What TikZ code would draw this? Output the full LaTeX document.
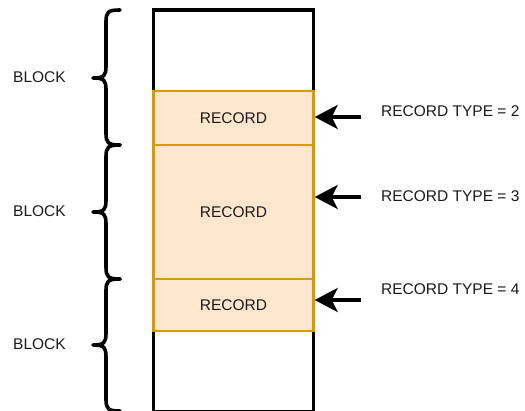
\documentclass[tikz,border=0pt]{standalone}
\usepackage{fontspec}
\setmainfont{Liberation Sans}
\usetikzlibrary{arrows.meta}
\definecolor{recfill}{HTML}{FFE6CC}
\definecolor{recdraw}{HTML}{D79B00}
\definecolor{txt}{HTML}{1A1A1A}
\newcommand{\blockbrace}[3]{% top, mid, bottom (y values)
  \draw[bracestyle] (120,#1) .. controls (108,#1) and (106,#1+2) .. (106,#1+12)
    -- (106,#2-12) .. controls (106,#2-2) and (104,#2) .. (93,#2)
    .. controls (104,#2) and (106,#2+2) .. (106,#2+12)
    -- (106,#3-12) .. controls (106,#3-2) and (108,#3) .. (120,#3);}
\begin{document}
\begin{tikzpicture}[x=1pt,y=-1pt,
  lbl/.style={font=\fontsize{15.5}{18}\selectfont, text=txt, inner sep=0pt},
  recbox/.style={draw=recdraw, fill=recfill, line width=2.4pt, minimum width=160pt, inner sep=0pt, font=\fontsize{15.5}{18}\selectfont, text=txt},
  bracestyle/.style={line width=3.6pt, line cap=round, line join=round},
  ptr/.style={-{Stealth[length=23pt,width=24pt,inset=6pt]}, line width=3.8pt}]
\useasboundingbox (0,0) rectangle (525,410);
% column
\draw[line width=3.6pt] (153.5,412) -- (153.5,10) -- (313.5,10) -- (313.5,412) -- cycle;
% records
\node[recbox, minimum height=54pt] (r1) at (233.5,118) {RECORD};
\node[recbox, minimum height=134pt] (r2) at (233.5,212) {RECORD};
\node[recbox, minimum height=52pt] (r3) at (233.5,305) {RECORD};
% braces
\blockbrace{10}{78}{145}
\blockbrace{145}{212}{279}
\blockbrace{279}{345}{411}
% block labels
\node[lbl, anchor=west] (bl1) at (13,77) {BLOCK};
\node[lbl, anchor=west] (bl2) at (13,211) {BLOCK};
\node[lbl, anchor=west] (bl3) at (13,344) {BLOCK};
% record type labels
\node[lbl, anchor=west] (t1) at (381,111) {RECORD TYPE = 2};
\node[lbl, anchor=west] (t2) at (381,196) {RECORD TYPE = 3};
\node[lbl, anchor=west] (t3) at (381,289) {RECORD TYPE = 4};
% arrows
\coordinate (a1) at (361,117);
\coordinate (a2) at (361,197);
\coordinate (a3) at (361,300);
\draw[ptr] (a1) -- (r1.east |- a1);
\draw[ptr] (a2) -- (r2.east |- a2);
\draw[ptr] (a3) -- (r3.east |- a3);
\end{tikzpicture}
\end{document}
